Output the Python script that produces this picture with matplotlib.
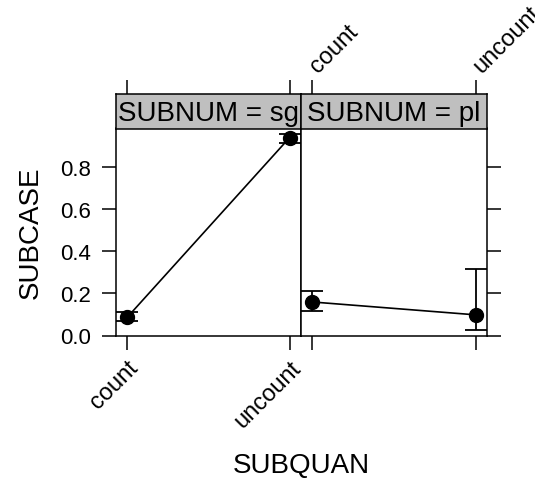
import numpy as np
import matplotlib
matplotlib.use('Agg')
import matplotlib.pyplot as plt
import matplotlib.transforms as mtransforms

plt.rcParams['font.family'] = ['Liberation Sans', 'DejaVu Sans']

# effect plot data: SUBCASE by SUBQUAN within SUBNUM
quan = ['count', 'uncount']
panels = ['sg', 'pl']
fit = {'sg': [0.087, 0.939], 'pl': [0.159, 0.098]}
lower = {'sg': [0.067, 0.915], 'pl': [0.116, 0.024]}
upper = {'sg': [0.111, 0.958], 'pl': [0.211, 0.317]}
yticks = [0.0, 0.2, 0.4, 0.6, 0.8]

W, H = 535, 481
fig = plt.figure(figsize=(W / 100, H / 100), dpi=100)

def px(x0, y0, x1, y1):
    return [x0 / W, 1 - y1 / H, (x1 - x0) / W, (y1 - y0) / H]

lw = 1.1
tl = 10
xs = np.arange(1, len(quan) + 1)

boxes = {'sg': (116, 301), 'pl': (301, 487)}
for i, p in enumerate(panels):
    x0, x1 = boxes[p]
    ax = fig.add_axes(px(x0, 129.5, x1, 336.5))
    st = fig.add_axes(px(x0, 95, x1, 129.5), sharex=ax)

    f = np.array(fit[p])
    lo = np.array(lower[p])
    hi = np.array(upper[p])
    ax.plot(xs, f, color='black', lw=1.2, zorder=2)
    ax.errorbar(xs, f, yerr=[f - lo, hi - f], fmt='none', ecolor='black',
                elinewidth=1.3, capsize=8, capthick=1.3, zorder=2)
    ax.plot(xs, f, 'o', color='black', ms=10, zorder=3)
    ax.set_xlim(0.93, 2.07)
    ax.set_ylim(0.0, 0.982)
    ax.set_xticks(xs)
    ax.set_yticks(yticks)
    ax.set_yticklabels(['%.1f' % v for v in yticks])
    for s in ax.spines.values():
        s.set_linewidth(lw)

    st.set_facecolor('#bfbfbf')
    st.set_ylim(0, 1)
    st.set_yticks([])
    for s in st.spines.values():
        s.set_linewidth(lw)
    st.text(0.5, 0.45, 'SUBNUM = ' + p, ha='center', va='center',
            fontsize=20, transform=st.transAxes)

    ax.tick_params(direction='out', length=tl, width=lw, labelsize=16, pad=8)
    st.tick_params(axis='x', direction='out', length=tl, width=lw,
                   bottom=False, labelbottom=False, top=True, labeltop=(i == 1))
    if i == 0:
        ax.tick_params(axis='y', left=True, labelleft=True, right=False)
        ax.tick_params(axis='x', bottom=True, labelbottom=True, pad=5)
        ax.set_xticklabels(quan, rotation=45, ha='right', va='top',
                           rotation_mode='anchor', fontsize=17)
        ax.set_ylabel('SUBCASE', fontsize=20, labelpad=12)
    else:
        ax.tick_params(axis='y', left=False, labelleft=False, right=True, labelright=False)
        ax.tick_params(axis='x', bottom=True, labelbottom=False)
        st.set_xticks(xs)
        st.set_xticklabels(quan, rotation=45, ha='left', va='baseline',
                           rotation_mode='anchor', fontsize=17)
        st.tick_params(axis='x', pad=5)
        shift = mtransforms.ScaledTranslation(6 / 100, 0, fig.dpi_scale_trans)
        for lab in st.get_xticklabels():
            lab.set_transform(lab.get_transform() + shift)

fig.text(301 / W, 1 - 466 / H, 'SUBQUAN', ha='center', va='center', fontsize=20)

fig.savefig('out.png', dpi=100)
